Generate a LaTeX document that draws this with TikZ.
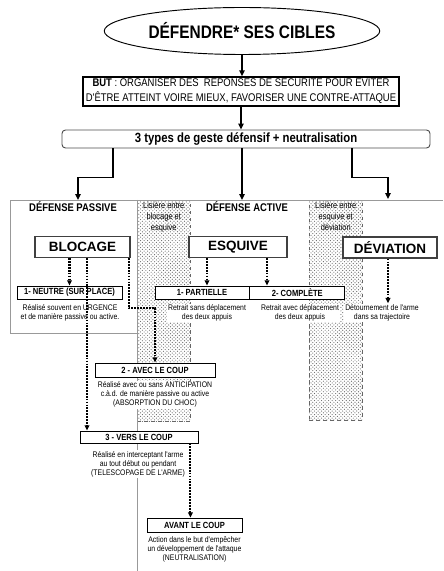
\documentclass[tikz,border=0pt]{standalone}
\usepackage{fontspec}
\setmainfont{Liberation Sans}
\newfontfamily\narrowfont[FakeStretch=0.85]{Liberation Sans}
\usetikzlibrary{positioning, arrows.meta, shapes.geometric, patterns}
\newdimen\pxu
\pxu=0.03cm
\tikzset{
  headbox/.style={
    rectangle,
    draw=black!75,
    line width=1pt,
    fill=white,
    font=\bfseries\fontsize{11.5}{13}\selectfont,
    inner sep=0pt,
    minimum height=21\pxu
  },
  stepbox/.style={
    rectangle,
    draw=black,
    line width=0.7pt,
    fill=white,
    font=\narrowfont\bfseries\fontsize{7.6}{9}\selectfont,
    inner sep=0pt,
    minimum height=13\pxu
  },
  desc/.style={
    align=center,
    fill=white,
    font=\narrowfont\fontsize{6.9}{7.7}\selectfont,
    inner sep=1pt
  },
  solidarrow/.style={
    -{Triangle[length=5pt,width=4.5pt]},
    line width=1.3pt
  },
  dotarrow/.style={
    -{Triangle[length=4.5pt,width=4pt]},
    line width=1.8pt,
    dash pattern=on 1.5pt off 1pt
  },
  frameline/.style={
    draw=black!40,
    line width=0.6pt
  },
  lisiere/.style={
    rectangle,
    draw=black!60,
    dashed,
    line width=0.4pt,
    pattern=crosshatch dots,
    pattern color=black!60,
    inner sep=0pt
  },
  lisieretext/.style={
    align=center,
    font=\narrowfont\fontsize{7.5}{9.4}\selectfont,
    inner sep=0pt
  },
  sidetitle/.style={
    font=\narrowfont\bfseries\fontsize{9.5}{11}\selectfont
  }
}
\begin{document}
\begin{tikzpicture}[x=0.03cm, y=-0.03cm]
  \useasboundingbox (0,0) rectangle (443,571);

  % bandes "lisiere"
  \node[lisiere, anchor=north west, minimum width=53\pxu, minimum height=221\pxu] (lisiere1) at (137,200) {};
  \node[lisiere, anchor=north west, minimum width=53\pxu, minimum height=220\pxu] (lisiere2) at (309,200) {};
  \node[lisieretext, below=1.5\pxu of lisiere1.north] (lis1text) {Lisière entre\\blocage et\\esquive};
  \node[lisieretext, below=1.5\pxu of lisiere2.north] (lis2text) {Lisière entre\\esquive et\\déviation};

  % cadre
  \draw[frameline] (10,333) -- (10,200) -- (443,200);
  \draw[frameline] (10,333) -- (137,333);
  \draw[frameline] (137,200) -- (137,571);

  \node[draw, ellipse, line width=0.8pt, minimum width=260\pxu, minimum height=47\pxu,
    font=\narrowfont\bfseries\fontsize{15.5}{17}\selectfont] (cibles) at (242,31) {DÉFENDRE* SES CIBLES};
  \node[rectangle, draw, line width=1.4pt, minimum width=316\pxu, minimum height=29\pxu,
    align=center, inner sep=0pt, font=\narrowfont\fontsize{9.5}{12.7}\selectfont] (but) at (241,91.5)
    {\textbf{BUT} : ORGANISER DES \ REPONSES DE SECURITE POUR EVITER\\D'ÊTRE ATTEINT VOIRE MIEUX, FAVORISER UNE CONTRE-ATTAQUE};
  \node[rectangle, draw=black!70, rounded corners=3pt, line width=0.8pt, minimum width=368\pxu,
    minimum height=18\pxu, inner sep=0pt, font=\narrowfont\bfseries\fontsize{11.4}{13}\selectfont] (types) at (246,139)
    {3 types de geste défensif + neutralisation};

  \coordinate (passive) at (78,200);
  \coordinate (active) at (242,200);
  \coordinate (devpt) at (388,199);

  \node[sidetitle] (passivetitle) at (73,207) {DÉFENSE PASSIVE};
  \node[sidetitle] (activetitle) at (247,207) {DÉFENSE ACTIVE};

  \node[headbox, minimum width=95\pxu] (blocage) at (82.5,247) {BLOCAGE};
  \node[headbox, minimum width=98\pxu] (esquive) at (238,247) {ESQUIVE};
  \node[headbox, minimum width=94\pxu] (deviation) at (390,247.5) {DÉVIATION};

  \node[stepbox, minimum width=105\pxu] (neutre) at (69.5,292.5) {1- NEUTRE (SUR PLACE)};
  \node[stepbox, minimum width=94\pxu] (partielle) at (202,292.5) {1- PARTIELLE};
  \node[stepbox, minimum width=95\pxu, right=0pt of partielle] (complete) {2- COMPLÈTE};
  \node[stepbox, minimum width=120\pxu, minimum height=14\pxu] (avec) at (155,370) {2 - AVEC LE COUP};
  \node[stepbox, minimum width=118\pxu, minimum height=12\pxu] (vers) at (139,437) {3 - VERS LE COUP};
  \node[stepbox, minimum width=95\pxu, minimum height=14\pxu] (avant) at (194.5,525) {AVANT LE COUP};

  \node[desc] (descneutre) at (70,313) {Réalisé souvent en URGENCE\\et de manière passive ou active.};
  \node[desc] (descpartielle) at (207,313) {Retrait sans déplacement\\des deux appuis};
  \node[desc] (desccomplete) at (300,313) {Retrait avec déplacement\\des deux appuis};
  \node[desc] (descdeviation) at (382,313) {Détournement de l'arme\\dans sa trajectoire};
  \node[desc, below=3\pxu of avec] (descavec) {Réalisé avec ou sans ANTICIPATION\\c.à.d. de manière passive ou active\\(ABSORPTION DU CHOC)};
  \node[desc] (descvers) at (138,464) {Réalisé en interceptant l'arme\\au tout début ou pendant\\(TELESCOPAGE DE L'ARME)};
  \node[desc, below=3\pxu of avant] (descavant) {Action dans le but d'empêcher\\un développement de l'attaque\\(NEUTRALISATION)};

  \draw[solidarrow] (cibles.south) -- (cibles.south |- but.north);
  \draw[solidarrow] (but.south) -- (but.south |- types.north);
  \draw[solidarrow] ([xshift=-133\pxu]types.south) -- ++(0,-29\pxu) -| (passive);
  \draw[solidarrow] (active |- types.south) -- (active);
  \draw[solidarrow] ([xshift=106\pxu]types.south) -- ++(0,-29\pxu) -| (devpt);

  \draw[dotarrow] (neutre.north |- blocage.south) -- (neutre.north);
  \draw[dotarrow] ([xshift=4.5\pxu]blocage.south) -- ([xshift=4.5\pxu]blocage.south |- vers.north);
  \draw[dotarrow] ([xshift=-2\pxu]blocage.south east) -- ++(0,-50\pxu) -| (avec.north);
  \draw[dotarrow] ([xshift=5\pxu]partielle.north |- esquive.south) -- ([xshift=5\pxu]partielle.north);
  \draw[dotarrow] ([xshift=29\pxu]esquive.south) -- ([xshift=29\pxu]esquive.south |- complete.north);
  \draw[dotarrow] ([xshift=-2\pxu]deviation.south) -- ([xshift=-2\pxu]deviation.south |- descdeviation.north);
  \draw[dotarrow] ([xshift=-8\pxu]vers.south east) -- ([xshift=-8\pxu]vers.south east |- avant.north);
\end{tikzpicture}
\end{document}
